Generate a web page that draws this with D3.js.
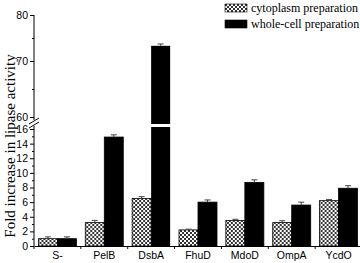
<!DOCTYPE html>
<meta charset="utf-8">
<head>
	<title>Fold increase in lipase activity</title>
</head>
<style>
body{ margin:0; background:#fff; }
svg{ display:block; }
.tick text{ font-family: Arial, "Liberation Sans", sans-serif; font-size:10.5px; }
.lbl{ font-family: "Times New Roman", "Liberation Serif", serif; }
</style>
<body>
<svg width="360" height="263"></svg>

<script src="https://cdnjs.cloudflare.com/ajax/libs/d3/7.8.5/d3.min.js"></script>
<script>

// data
var signals = ['S-', 'PelB', 'DsbA', 'FhuD', 'MdoD', 'OmpA', 'YcdO'];
var cytoValues = [1.0, 3.2, 6.5, 2.2, 3.5, 3.2, 6.2];
var cytoErrors = [0.25, 0.3, 0.25, 0.1, 0.15, 0.25, 0.15];
var wholeValues = [1.0, 14.9, 73.3, 6.0, 8.7, 5.6, 7.9];
var wholeErrors = [0.25, 0.3, 0.4, 0.3, 0.35, 0.4, 0.35];
var seriesNames = ['cytoplasm preparation', 'whole-cell preparation'];
var lowTicks = [0, 2, 4, 6, 8, 10, 12, 14, 16];
var highTicks = [60, 70, 80];

var svg = d3.select('svg');

// crosshatch pattern
var pat = svg.append('defs').append('pattern')
	.attr('id', 'hatch')
	.attr('patternUnits', 'userSpaceOnUse')
	.attr('width', 4).attr('height', 4);
pat.append('rect').attr('width', 4).attr('height', 4).attr('fill', '#fff');
pat.append('rect').attr('width', 2).attr('height', 2).attr('fill', '#333');
pat.append('rect').attr('x', 2).attr('y', 2).attr('width', 2).attr('height', 2).attr('fill', '#333');

var x0 = 34, yBase = 246;

var x = d3.scaleBand().domain(signals).range([x0, 362]);
var yLow = d3.scaleLinear().domain([0, 16]).range([yBase, 129]);
var yHigh = d3.scaleLinear().domain([60, 70, 80]).range([117, 61, 15]);

var breakTop = 124, breakBottom = 127;
var barW = 19;

var data = signals.map(function(s, i){
	return {name:s, vals:[
		{k:0, v:cytoValues[i], e:cytoErrors[i]},
		{k:1, v:wholeValues[i], e:wholeErrors[i]}
	]};
});

var groups = svg.selectAll('g.grp')
	.data(data)
	.enter()
	.append('g')
	.attr('class', 'grp')
	.attr('transform', function(d){
		return 'translate(' + (x(d.name) + x.bandwidth()/2) + ',0)';
	});

groups.each(function(d){
	var g = d3.select(this);
	d.vals.forEach(function(b){
		var bx = b.k === 0 ? -barW : 0;
		var fill = b.k === 0 ? 'url(#hatch)' : '#000';
		var top, ey;
		if (b.v <= 16) {
			g.append('rect')
				.attr('x', bx).attr('width', barW)
				.attr('y', yLow(b.v)).attr('height', yBase - yLow(b.v))
				.attr('fill', fill).attr('stroke', '#000').attr('stroke-width', 0.8);
			top = yLow(b.v); ey = yLow(b.v + b.e);
		} else {
			g.append('rect')
				.attr('x', bx).attr('width', barW)
				.attr('y', breakBottom).attr('height', yBase - breakBottom)
				.attr('fill', fill);
			g.append('rect')
				.attr('x', bx).attr('width', barW)
				.attr('y', yHigh(b.v)).attr('height', breakTop - yHigh(b.v))
				.attr('fill', fill);
			top = yHigh(b.v); ey = yHigh(b.v + b.e);
		}
		var cx = bx + barW/2;
		g.append('line')
			.attr('x1', cx).attr('x2', cx).attr('y1', top).attr('y2', ey)
			.attr('stroke', '#444').attr('stroke-width', 1);
		g.append('line')
			.attr('x1', cx - 3).attr('x2', cx + 3).attr('y1', ey).attr('y2', ey)
			.attr('stroke', '#444').attr('stroke-width', 1);
	});
});

// y axis - lower segment
var axLow = svg.append('g')
	.attr('transform', 'translate(' + x0 + ',0)')
	.call(d3.axisLeft(yLow).tickValues(lowTicks).tickSize(4).tickPadding(2));
axLow.select('.domain').remove();
svg.append('g')
	.attr('transform', 'translate(' + x0 + ',0)')
	.call(d3.axisLeft(yLow).tickValues(d3.range(1, 16, 2)).tickSize(2).tickFormat(''))
	.select('.domain').remove();

var axHigh = svg.append('g')
	.attr('transform', 'translate(' + x0 + ',0)')
	.call(d3.axisLeft(yHigh).tickValues(highTicks).tickSize(4).tickPadding(2));
axHigh.select('.domain').remove();
svg.append('g')
	.attr('transform', 'translate(' + x0 + ',0)')
	.call(d3.axisLeft(yHigh).tickValues([65, 75]).tickSize(2).tickFormat(''))
	.select('.domain').remove();

svg.selectAll('.tick line').attr('stroke', '#000');
svg.selectAll('.tick text').attr('fill', '#000');

// axis line with break
svg.append('line').attr('x1', x0).attr('x2', x0).attr('y1', 15).attr('y2', 120)
	.attr('stroke', '#000');
svg.append('line').attr('x1', x0).attr('x2', x0).attr('y1', 126).attr('y2', yBase)
	.attr('stroke', '#000');
[0, 4].forEach(function(o){
	svg.append('line')
		.attr('x1', x0 - 5).attr('y1', 124 + o)
		.attr('x2', x0 + 5).attr('y2', 118 + o)
		.attr('stroke', '#000');
});

// x axis
var axX = svg.append('g')
	.attr('transform', 'translate(0,' + yBase + ')')
	.call(d3.axisBottom(x).tickSize(0).tickPadding(6));
axX.select('.domain').attr('stroke', '#000');
axX.selectAll('.tick text').attr('fill', '#000');
svg.append('g')
	.selectAll('line')
	.data(signals)
	.enter()
	.append('line')
	.attr('x1', function(d){ return x(d); })
	.attr('x2', function(d){ return x(d); })
	.attr('y1', yBase).attr('y2', yBase + 3)
	.attr('stroke', '#000');

// y label
svg.append('text')
	.attr('class', 'lbl')
	.attr('transform', 'translate(15,146) rotate(-90)')
	.attr('text-anchor', 'middle')
	.style('font-size', '15px')
	.text('Fold increase in lipase activity');

// legend
var legend = svg.append('g')
	.selectAll('g')
	.data(seriesNames)
	.enter()
	.append('g')
	.attr('transform', function(d, i){ return 'translate(225,' + (4 + i*16) + ')'; });
legend.append('rect')
	.attr('width', 22).attr('height', 8)
	.attr('fill', function(d, i){ return i === 0 ? 'url(#hatch)' : '#000'; })
	.attr('stroke', '#000').attr('stroke-width', 0.6);
legend.append('text')
	.attr('class', 'lbl')
	.attr('x', 26).attr('y', 8)
	.style('font-size', '12px')
	.text(function(d){ return d; });

</script>
</body>
</html>
